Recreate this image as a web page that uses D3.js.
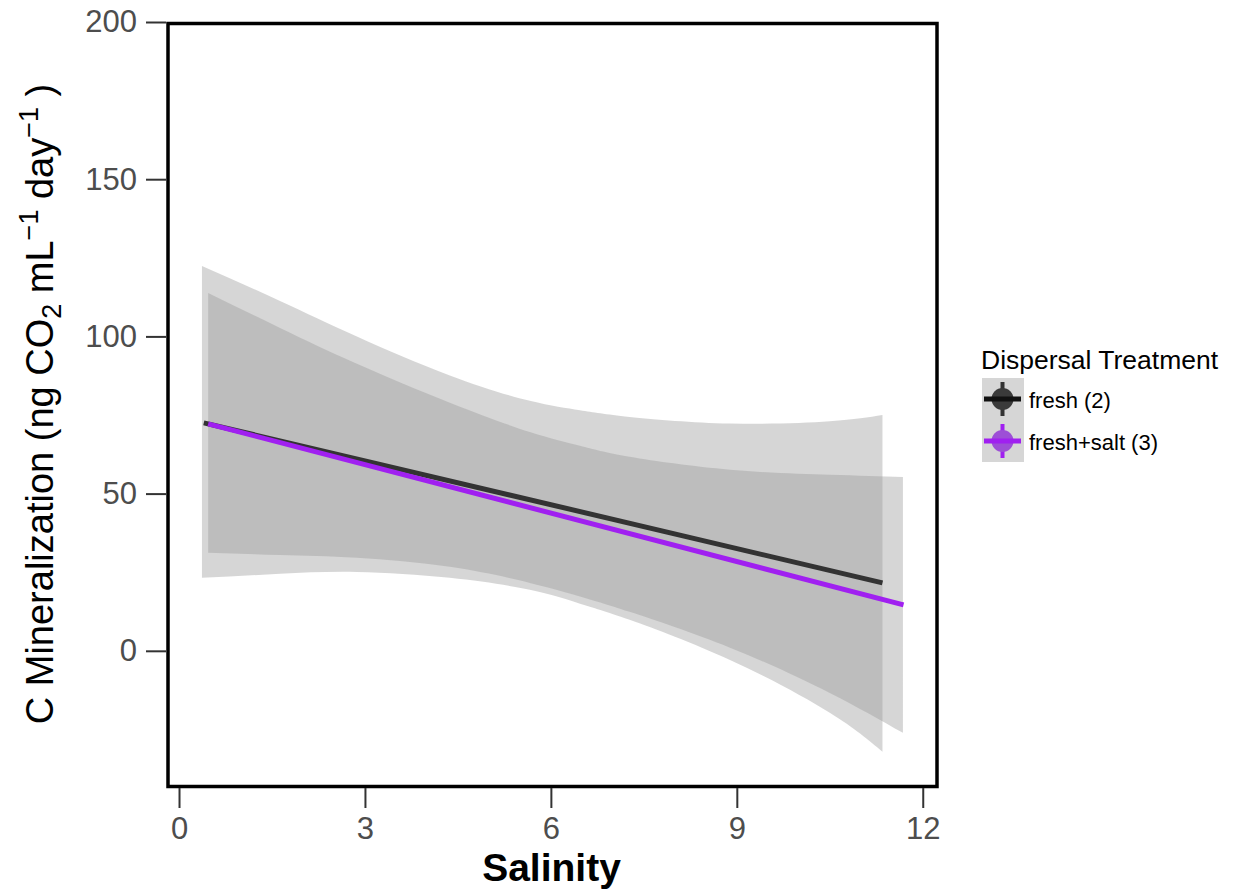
<!DOCTYPE html>
<html>
<head>
<meta charset="utf-8">
<script src="https://cdn.jsdelivr.net/npm/d3@7"></script>
<style>
  html, body { margin: 0; padding: 0; background: #ffffff; }
  svg { display: block; font-family: "Liberation Sans", Arial, Helvetica, sans-serif; }
</style>
</head>
<body>
<svg id="chart" width="1238" height="890"></svg>
<script>
// ---------------- data ----------------
const groups = ["fresh (2)", "fresh+salt (3)"];
const lineColors = ["#333333", "#a020f0"];

// fitted lines: endpoints
const freshLineX = [0.40, 11.35];
const freshLineY = [72.5, 21.6];
const saltLineX = [0.47, 11.69];
const saltLineY = [72.2, 14.6];

// confidence ribbons
const freshRibbonX =     [0.37, 1.63, 2.87, 4.37, 5.66, 6.47, 7.27, 8.89, 10.5, 11.35];
const freshRibbonUpper = [122.4, 111.3, 100.0, 87.6, 79.5, 76.5, 74.4, 72.3, 73.0, 75.0];
const freshRibbonLower = [23.2, 24.5, 25.1, 23.2, 19.4, 15.0, 9.9, -2.9, -19.7, -32.1];

const saltRibbonX =     [0.47, 1.63, 2.87, 4.37, 5.66, 6.47, 7.27, 8.89, 10.5, 11.68];
const saltRibbonUpper = [113.8, 102.7, 91.3, 78.9, 69.6, 65.2, 61.7, 57.6, 56.0, 55.3];
const saltRibbonLower = [31.2, 30.5, 29.6, 26.7, 21.6, 17.3, 12.4, 1.0, -13.4, -26.1];

const xTicks = [0, 3, 6, 9, 12];
const yTicks = [0, 50, 100, 150, 200];

// ---------------- layout ----------------
const svg = d3.select("#chart");
const panel = { left: 166, right: 937, top: 22, bottom: 786 };

const x = d3.scaleLinear().domain([-0.21, 12.23]).range([panel.left, panel.right]);
const y = d3.scaleLinear().domain([-43, 200]).range([panel.bottom, panel.top]);

// ribbons
const ribbons = [
  { xs: freshRibbonX, up: freshRibbonUpper, lo: freshRibbonLower },
  { xs: saltRibbonX, up: saltRibbonUpper, lo: saltRibbonLower }
];
const area = d3.area()
  .x(d => x(d.x)).y0(d => y(d.lo)).y1(d => y(d.up))
  .curve(d3.curveNatural);

ribbons.forEach(r => {
  const pts = r.xs.map((v, i) => ({ x: v, up: r.up[i], lo: r.lo[i] }));
  svg.append("path")
    .attr("d", area(pts))
    .attr("fill", "#999999")
    .attr("fill-opacity", 0.4);
});

// fitted lines
const lines = [
  { xs: freshLineX, ys: freshLineY, color: lineColors[0] },
  { xs: saltLineX, ys: saltLineY, color: lineColors[1] }
];
const lineGen = d3.line().x(d => x(d[0])).y(d => y(d[1]));
lines.forEach(l => {
  svg.append("path")
    .attr("d", lineGen(l.xs.map((v, i) => [v, l.ys[i]])))
    .attr("fill", "none")
    .attr("stroke", l.color)
    .attr("stroke-width", 5);
});

// panel border
svg.append("rect")
  .attr("x", panel.left + 2).attr("y", panel.top + 1.5)
  .attr("width", panel.right - panel.left - 2)
  .attr("height", panel.bottom - panel.top - 1)
  .attr("fill", "none").attr("stroke", "#000").attr("stroke-width", 3.5);

// axes
const yAxis = d3.axisLeft(y).tickValues(yTicks).tickSize(20).tickPadding(9);
const gy = svg.append("g").attr("transform", `translate(${panel.left},0)`).call(yAxis);
const xAxis = d3.axisBottom(x).tickValues(xTicks).tickSize(20).tickPadding(9);
const gx = svg.append("g").attr("transform", `translate(0,${panel.bottom + 2})`).call(xAxis);

[gx, gy].forEach(g => {
  g.select(".domain").remove();
  g.selectAll(".tick line").attr("stroke", "#333333").attr("stroke-width", 2);
  g.selectAll(".tick text")
    .attr("fill", "#4d4d4d")
    .style("font-size", "31px")
    .style("font-family", '"Liberation Sans", Arial, sans-serif');
});

// axis titles
svg.append("text")
  .attr("x", (panel.left + panel.right) / 2)
  .attr("y", 881)
  .attr("text-anchor", "middle")
  .style("font-size", "39px").style("font-weight", "bold")
  .attr("fill", "#000")
  .text("Salinity");

const yt = svg.append("text")
  .attr("transform", `translate(53,${(panel.top + panel.bottom) / 2}) rotate(-90)`)
  .attr("text-anchor", "middle")
  .style("font-size", "38px")
  .attr("fill", "#000");
yt.append("tspan").text("C Mineralization (ng CO");
yt.append("tspan").attr("dy", 8).style("font-size", "27px").text("2");
yt.append("tspan").attr("dy", -8).text(" mL");
yt.append("tspan").attr("dy", -15).style("font-size", "27px").text("\u22121");
yt.append("tspan").attr("dy", 15).text(" day");
yt.append("tspan").attr("dy", -15).style("font-size", "27px").text("\u22121");
yt.append("tspan").attr("dy", 15).text(" )");

// legend
const legend = svg.append("g");
legend.append("text")
  .attr("x", 981).attr("y", 369)
  .style("font-size", "26.5px").attr("fill", "#000")
  .text("Dispersal Treatment");

const keyFill = ["#3a3a3a", "#9d4fd6"];
const keyLine = ["#111111", "#a020f0"];
const keyV = ["#333333", "#a020f0"];
groups.forEach((g, i) => {
  const top = 378 + i * 42;
  const cx = 1002.5, cy = top + 21;
  legend.append("rect")
    .attr("x", 982).attr("y", top).attr("width", 42).attr("height", 42)
    .attr("fill", "#d6d6d6");
  legend.append("line")
    .attr("x1", cx).attr("x2", cx).attr("y1", top + 4).attr("y2", top + 38)
    .attr("stroke", keyV[i]).attr("stroke-width", 4);
  legend.append("circle")
    .attr("cx", cx).attr("cy", cy).attr("r", 11)
    .attr("fill", keyFill[i]);
  legend.append("line")
    .attr("x1", 984).attr("x2", 1021).attr("y1", cy).attr("y2", cy)
    .attr("stroke", keyLine[i]).attr("stroke-width", 5);
  legend.append("text")
    .attr("x", 1029).attr("y", cy + 8.5)
    .style("font-size", "22px").attr("fill", "#000")
    .text(g);
});
</script>
</body>
</html>
